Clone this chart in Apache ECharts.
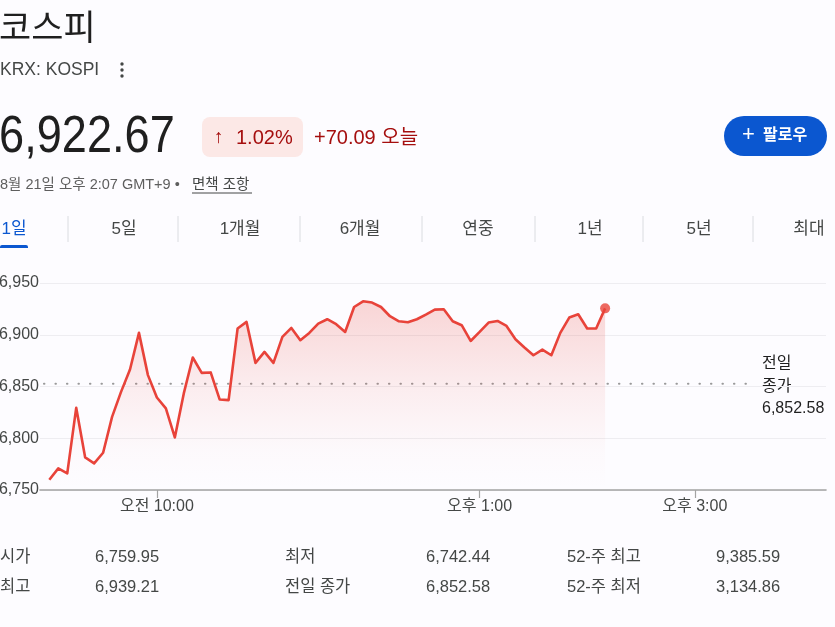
<!DOCTYPE html>
<html>
<head>
<meta charset="utf-8">
<script src="https://cdn.jsdelivr.net/npm/echarts@6/dist/echarts.min.js"></script>
<style>
  html, body { margin: 0; padding: 0; background: #fdfcff; }
  #chart { width: 835px; height: 627px; }
</style>
</head>
<body>
<div id="chart"></div>
<script>
// ---- Data ----
const titleText = '코스피';
const tickerText = 'KRX: KOSPI';
const lastPrice = '6,922.67';
const changePct = '1.02%';
const changeAbs = '+70.09 오늘';
const dateText = '8월 21일 오후 2:07 GMT+9 • ';
const disclaimerText = '면책 조항';
const followText = '팔로우';
const tabs = ['1일', '5일', '1개월', '6개월', '연중', '1년', '5년', '최대'];

// minutes after 09:00
const times = [0, 5, 10, 15, 20, 25, 30, 35, 40, 45,
  50, 55, 60, 65, 70, 75, 80, 85, 90, 95,
  100, 105, 110, 115, 120, 125, 130, 135, 140, 145,
  150, 155, 160, 165, 170, 175, 180, 185, 190, 195,
  200, 205, 210, 215, 220, 225, 230, 235, 240, 245,
  250, 255, 260, 265, 270, 275, 280, 285, 290, 295,
  300, 305, 310];
const values = [6759.95, 6770.9, 6766.1, 6829.4, 6781.5, 6775.8, 6786.0, 6820.7, 6844.8, 6866.4,
  6901.8, 6861.0, 6839.4, 6828.8, 6800.8, 6843.3, 6878.0, 6863.2, 6863.6, 6837.5,
  6836.8, 6906.0, 6912.4, 6872.8, 6883.4, 6872.8, 6897.9, 6906.6, 6894.7, 6901.8,
  6910.8, 6915.0, 6910.2, 6902.7, 6926.8, 6932.3, 6931.1, 6926.8, 6917.9, 6913.0,
  6912.1, 6915.0, 6919.5, 6924.3, 6924.6, 6913.0, 6909.2, 6894.0, 6902.7, 6911.8,
  6913.3, 6908.5, 6895.7, 6887.7, 6880.2, 6885.7, 6880.2, 6901.8, 6916.6, 6919.8,
  6906.0, 6906.0, 6925.5];
const prevClose = 6852.58;
const prevCloseSpan = [-3, 394];
const xTickValues = [60, 240, 360];
const xTickLabels = ['오전 10:00', '오후 1:00', '오후 3:00'];
const yTicks = [6750, 6800, 6850, 6900, 6950];

const statLabels1 = ['시가', '최고'];
const statValues1 = ['6,759.95', '6,939.21'];
const statLabels2 = ['최저', '전일 종가'];
const statValues2 = ['6,742.44', '6,852.58'];
const statLabels3 = ['52-주 최고', '52-주 최저'];
const statValues3 = ['9,385.59', '3,134.86'];

// ---- Chart ----
const FONT = "'Liberation Sans', Arial, 'Noto Sans CJK KR', sans-serif";
const RED = '#e8433a';
const DARK = '#1f1f1f';
const GREY = '#444746';

const chart = echarts.init(document.getElementById('chart'), null, { renderer: 'canvas' });

function txt(text, x, y, size, color, extra) {
  return {
    type: 'text', x: 0, y: 0, silent: true,
    style: Object.assign({
      text: text, x: x, y: y, fill: color,
      fontSize: size, fontFamily: FONT,
      textAlign: 'left', textVerticalAlign: 'middle',
      align: 'left', verticalAlign: 'middle'
    }, extra || {})
  };
}

const graphics = [];
// Title block
graphics.push(txt(titleText, -1, 30, 35, DARK));
graphics.push(txt(tickerText, 0, 70, 17.5, GREY));
[64, 70, 76].forEach(function (cy) {
  graphics.push({ type: 'circle', silent: true, shape: { cx: 122, cy: cy, r: 1.7 }, style: { fill: GREY } });
});
// Big price (narrow display face emulated by horizontal scale)
graphics.push({
  type: 'text', x: 0, y: 0, scaleX: 0.885, scaleY: 1, silent: true,
  style: { text: lastPrice, x: -1, y: 138, fill: DARK, fontSize: 51, fontFamily: FONT,
    textVerticalAlign: 'middle', verticalAlign: 'middle' }
});
// Change badge
graphics.push({ type: 'rect', silent: true, shape: { x: 202, y: 117, width: 101, height: 40, r: 8 }, style: { fill: '#fce8e6' } });
graphics.push(txt('↑', 214, 138, 19, '#a50e0e'));
graphics.push(txt(changePct, 236, 138, 20, '#a50e0e'));
graphics.push(txt(changeAbs, 314, 138, 20, '#a50e0e'));
// Follow button
graphics.push({ type: 'rect', silent: true, shape: { x: 724, y: 116, width: 103, height: 40, r: 20 }, style: { fill: '#0b57d0' } });
graphics.push(txt('+', 742, 135, 22, '#ffffff'));
graphics.push(txt(followText, 763, 136, 16, '#ffffff', { fontWeight: 'bold' }));
// Date line
graphics.push(txt(dateText, 0, 185, 14.5, '#5e5e5e'));
graphics.push(txt(disclaimerText, 192, 185, 14.5, '#444746'));
graphics.push({ type: 'line', silent: true, shape: { x1: 192, y1: 193, x2: 252, y2: 193 }, style: { stroke: '#444746', lineWidth: 1 } });
// Tabs
const tabCenters = [14, 124, 240, 360, 478, 590, 699, 809];
tabs.forEach(function (t, i) {
  graphics.push(txt(t, tabCenters[i], 229, 17, i === 0 ? '#0b57d0' : GREY, { textAlign: 'center', align: 'center' }));
});
[68, 178, 300, 422, 535, 643, 753].forEach(function (sx) {
  graphics.push({ type: 'line', silent: true, shape: { x1: sx, y1: 216, x2: sx, y2: 242 }, style: { stroke: '#dadce0', lineWidth: 1 } });
});
graphics.push({ type: 'rect', silent: true, shape: { x: 0, y: 245, width: 28, height: 3, r: [2, 2, 0, 0] }, style: { fill: '#0b57d0' } });
// Previous close label
graphics.push(txt('전일', 762, 364, 16, DARK));
graphics.push(txt('종가', 762, 387, 16, DARK));
graphics.push(txt(prevClose.toLocaleString('en-US', { minimumFractionDigits: 2 }), 762, 409, 16, DARK));
// Stats
const statCols = [[0, 95, statLabels1, statValues1], [285, 426, statLabels2, statValues2], [567, 716, statLabels3, statValues3]];
const statRows = [557, 587];
statCols.forEach(function (c) {
  statRows.forEach(function (ry, r) {
    graphics.push(txt(c[2][r], c[0], ry, 16.5, GREY));
    graphics.push(txt(c[3][r], c[1], ry, 16.5, GREY));
  });
});

const seriesData = times.map(function (t, i) { return [t, values[i]]; });
const lastIdx = times.length - 1;

const option = {
  backgroundColor: '#fdfcff',
  animation: false,
  grid: { left: 40, right: 9, top: 283, bottom: 137, containLabel: false, outerBoundsMode: 'none' },
  xAxis: {
    type: 'value', min: -5.2, max: 433.2,
    splitLine: { show: false },
    axisLine: { show: true, lineStyle: { color: '#a3a3a3', width: 1.6 } },
    axisTick: { show: true, customValues: xTickValues, length: 8, lineStyle: { color: '#a3a3a3', width: 1.2 } },
    axisLabel: {
      show: true, customValues: xTickValues, margin: 9, fontSize: 16, color: GREY, fontFamily: FONT,
      formatter: function (v) { const k = xTickValues.indexOf(v); return k >= 0 ? xTickLabels[k] : ''; }
    }
  },
  yAxis: {
    type: 'value', min: yTicks[0], max: yTicks[yTicks.length - 1], interval: 50,
    axisLine: { show: false }, axisTick: { show: false },
    splitLine: { show: true, lineStyle: { color: '#eeedf1', width: 1.2 } },
    axisLabel: {
      margin: 1, fontSize: 16, color: GREY, fontFamily: FONT,
      formatter: function (v) { return v.toLocaleString('en-US'); }
    }
  },
  series: [
    {
      type: 'line', data: prevCloseSpan.map(function (t) { return [t, prevClose]; }),
      showSymbol: false, silent: true, z: 1,
      lineStyle: { color: '#9a9a9a', width: 2, type: [0.5, 11], cap: 'round' }
    },
    {
      type: 'line', data: seriesData, showSymbol: false, smooth: false, z: 3,
      lineStyle: { color: RED, width: 2.6, join: 'round' },
      areaStyle: {
        color: new echarts.graphic.LinearGradient(0, 0, 0, 1, [
          { offset: 0, color: 'rgba(232,67,58,0.30)' },
          { offset: 0.45, color: 'rgba(232,67,58,0.12)' },
          { offset: 0.8, color: 'rgba(232,67,58,0.02)' },
          { offset: 1, color: 'rgba(232,67,58,0.0)' }
        ])
      }
    },
    {
      type: 'scatter', data: [seriesData[lastIdx]], symbolSize: 10, z: 4, silent: true,
      itemStyle: { color: RED }
    }
  ],
  graphic: { elements: graphics }
};
chart.setOption(option);
</script>
</body>
</html>
